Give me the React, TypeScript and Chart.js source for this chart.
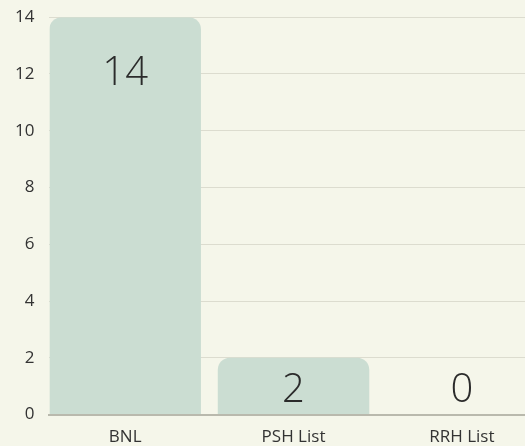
import React, { useEffect, useRef } from "react";
import { Chart, registerables } from "chart.js";

Chart.register(...registerables);

const categories = ["BNL", "PSH List", "RRH List"];
const values = [14, 2, 0];
const yTicks = [0, 2, 4, 6, 8, 10, 12, 14];

const BG = "#f5f6ea";
const BAR = "#cbddd2";
const FONT = "'Open Sans', 'Noto Sans', sans-serif";

const valueLabels = {
  id: "valueLabels",
  afterDatasetsDraw(chart: any) {
    const { ctx, chartArea } = chart;
    const meta = chart.getDatasetMeta(0);
    ctx.save();
    ctx.font = `300 40px ${FONT}`;
    ctx.fillStyle = "#2b2b2b";
    ctx.textAlign = "center";
    ctx.textBaseline = "middle";
    meta.data.forEach((el: any, i: number) => {
      const y = Math.min(el.y + 56, chartArea.bottom - 24);
      ctx.fillText(String(values[i]), el.x, y);
    });
    ctx.restore();
  },
};

export default function App() {
  const ref = useRef<HTMLCanvasElement>(null);
  useEffect(() => {
    document.body.style.margin = "0";
    document.body.style.background = BG;
    const chart = new Chart(ref.current!, {
      type: "bar",
      data: {
        datasets: [
          {
            data: values.map((v, i) => ({ x: i, y: v })),
            backgroundColor: BAR,
            borderRadius: { topLeft: 12, topRight: 12, bottomLeft: 0, bottomRight: 0 },
            borderSkipped: false,
            barPercentage: 0.9,
            categoryPercentage: 1,
          },
        ],
      },
      options: {
        animation: false,
        responsive: false,
        maintainAspectRatio: false,
        layout: { padding: { top: 0, right: 0, left: 0, bottom: 0 } },
        plugins: { legend: { display: false }, tooltip: { enabled: false } },
        scales: {
          x: {
            type: "linear",
            offset: false,
            min: -0.45,
            max: 2.375,
            afterBuildTicks: (axis: any) => {
              axis.ticks = categories.map((_, i) => ({ value: i }));
            },
            ticks: {
              callback: (v: any) => categories[v] ?? "",
              color: "#333",
              font: { family: FONT, size: 17 },
              maxRotation: 0,
              autoSkip: false,
              padding: 12,
            },
            grid: { display: false, drawTicks: false },
            border: { display: true, color: "#b9b9ad", width: 2 },
          },
          y: {
            min: 0,
            max: 14,
            afterBuildTicks: (axis: any) => {
              axis.ticks = yTicks.map((v) => ({ value: v }));
            },
            ticks: {
              color: "#333",
              font: { family: FONT, size: 17 },
              padding: 15,
            },
            grid: { color: "#dcdccf", drawTicks: false },
            border: { display: false },
          },
        },
      },
      plugins: [valueLabels],
    } as any);
    return () => chart.destroy();
  }, []);
  return (
    <div style={{ width: 525, height: 446, background: BG, overflow: "hidden" }}>
      <canvas
        ref={ref}
        width={525}
        height={467}
        style={{ display: "block", marginTop: -8 }}
      />
    </div>
  );
}
